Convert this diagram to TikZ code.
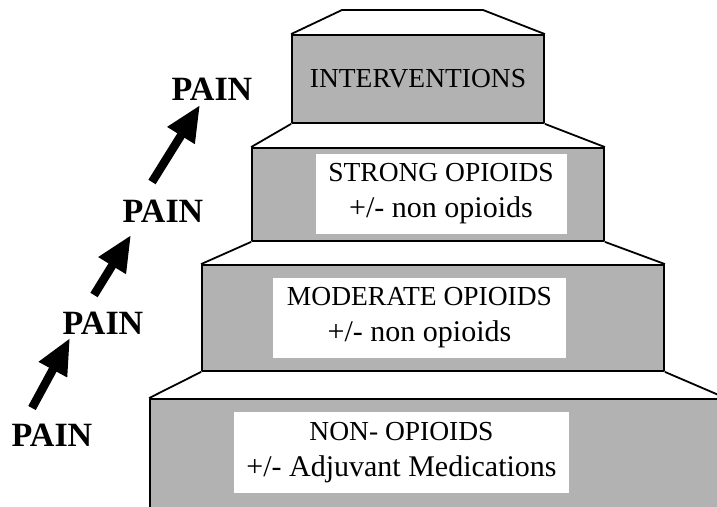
\documentclass[tikz,border=0pt]{standalone}
\usepackage{fontspec}
\setmainfont{Liberation Serif}
\usetikzlibrary{arrows.meta,calc}

\tikzset{
  stepbox/.style={draw, fill=black!30, line width=1.8pt, inner sep=0pt},
  txtbox/.style={fill=white, inner sep=0pt, align=center, font=\fontsize{27.5}{36}\selectfont},
  pain/.style={font=\bfseries\fontsize{34}{36}\selectfont, inner sep=0pt},
  painarrow/.style={line width=8.5pt, -{Triangle[length=36pt,width=30pt]}},
}

\begin{document}
\begin{tikzpicture}[x=1pt, y=-1pt, line join=round]
    \useasboundingbox (0,0) rectangle (717,506);
    \clip (0,0) rectangle (717,506);

    \node[stepbox, minimum width=252pt, minimum height=88pt, font=\fontsize{27.5}{36}\selectfont] (interv) at (418,79) {INTERVENTIONS};
    \node[stepbox, minimum width=352pt, minimum height=93pt] (strong) at (428,194.5) {};
    \node[stepbox, minimum width=462pt, minimum height=106pt] (moderate) at (433,318) {};
    \node[stepbox, minimum width=575pt, minimum height=131pt] (nonop) at (437.5,464.5) {};

    \node[txtbox, minimum width=251pt, minimum height=80pt] (strongtxt) at (441,194) {STRONG OPIOIDS\\{\fontsize{30}{36}\selectfont +/- non opioids}};
    \node[txtbox, minimum width=293pt, minimum height=80pt] (moderatetxt) at (419.5,318) {MODERATE OPIOIDS\\{\fontsize{30}{36}\selectfont +/- non opioids}};
    \node[txtbox, minimum width=335pt, minimum height=81pt] (nonoptxt) at (401.5,452.5) {NON- OPIOIDS\\{\fontsize{30}{36}\selectfont +/- Adjuvant Medications}};

    \coordinate (topl) at (342,10);
    \coordinate (topr) at (483,10);

    \draw[line width=1.8pt] (interv.north west) -- (topl) -- (topr) -- (interv.north east);
    \draw[line width=1.8pt] (interv.south west) -- (strong.north west);
    \draw[line width=1.8pt] (interv.south east) -- (strong.north east);
    \draw[line width=1.8pt] (strong.south west) -- (moderate.north west);
    \draw[line width=1.8pt] (strong.south east) -- (moderate.north east);
    \draw[line width=1.8pt] (moderate.south west) -- (nonop.north west);
    \draw[line width=1.8pt] (moderate.south east) -- (nonop.north east);

    \node[pain] (pain1) at (212,89) {PAIN};
    \node[pain] (pain2) at (163,211) {PAIN};
    \node[pain] (pain3) at (103,323) {PAIN};
    \node[pain] (pain4) at (52,435) {PAIN};

    \draw[painarrow] ($(pain4) + (-20,-27)$) -- ($(pain3) + (-33,15)$);
    \draw[painarrow] ($(pain3) + (-9,-28)$) -- ($(pain2) + (-32,24)$);
    \draw[painarrow] ($(pain2) + (-11,-29)$) -- ($(pain1) + (-12,16)$);
\end{tikzpicture}
\end{document}
